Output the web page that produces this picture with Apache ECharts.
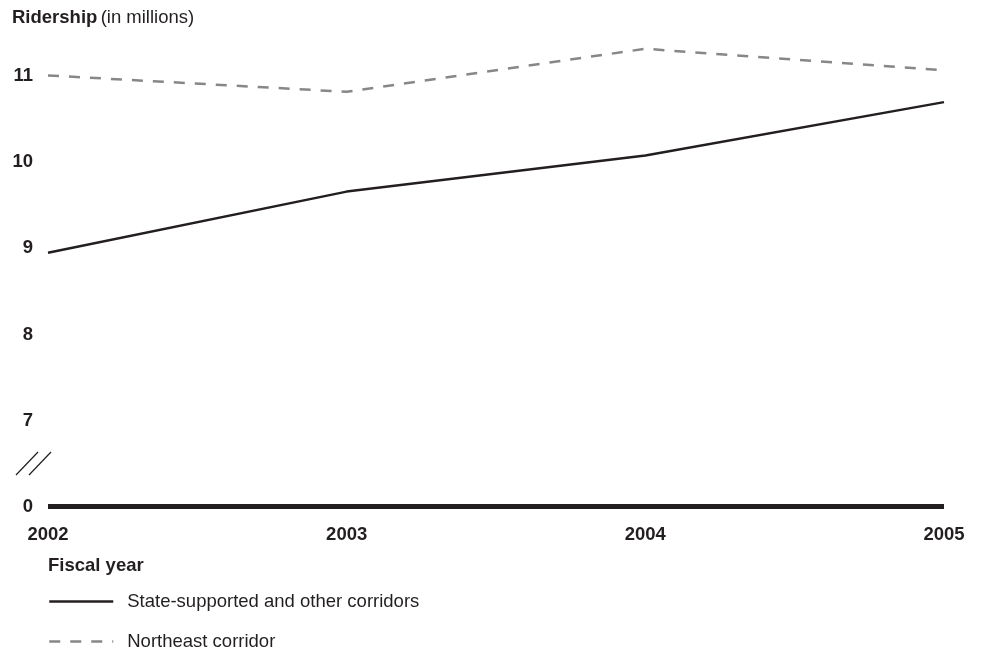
<!DOCTYPE html>
<html>
<head>
<meta charset="utf-8">
<script src="https://cdn.jsdelivr.net/npm/echarts@6/dist/echarts.min.js"></script>
<style>html,body{margin:0;padding:0;background:#fff}#c{width:982px;height:651px}</style>
</head>
<body>
<div id="c"></div>
<script>
var years = ['2002', '2003', '2004', '2005'];
var stateSupported = [8.95, 9.66, 10.08, 10.70];
var northeast = [11.01, 10.82, 11.32, 11.07];
// axis break: the bottom tick (6 on the scale) is labeled "0"
var yTicks = [6, 7, 8, 9, 10, 11];
var yTickLabels = ['0', '7', '8', '9', '10', '11'];
var seriesNames = ['State-supported and other corridors', 'Northeast corridor'];

var TXT = '#231f20';
var GRAY = '#878787';
var FONT = 'Liberation Sans, Arial, Helvetica, sans-serif';
var FS = 18.5;

function legendFor(name, top) {
  return {
    orient: 'vertical',
    left: 43,
    top: top,
    itemWidth: 64,
    itemHeight: 14,
    itemGap: 26,
    itemStyle: {opacity: 0},
    lineStyle: {width: 2.5},
    textStyle: {color: TXT, fontSize: FS, fontFamily: FONT, padding: [0, 0, 0, 9]},
    data: [name]
  };
}

var chart = echarts.init(document.getElementById('c'), null, {renderer: 'canvas'});
chart.setOption({
  animation: false,
  backgroundColor: '#fff',
  textStyle: {fontFamily: FONT, color: TXT},
  grid: {left: 48, right: 38, top: 33.3, bottom: 144.5},
  xAxis: {
    type: 'category',
    data: years,
    boundaryGap: false,
    axisLine: {show: true, lineStyle: {color: TXT, width: 5, cap: 'butt'}},
    axisTick: {show: false},
    splitLine: {show: false},
    axisLabel: {color: TXT, fontSize: FS, fontWeight: 'bold', fontFamily: FONT, margin: 19}
  },
  yAxis: {
    type: 'value',
    min: 6,
    max: 11.5,
    interval: 1,
    axisLine: {show: false},
    axisTick: {show: false},
    splitLine: {show: false},
    axisLabel: {
      color: TXT, fontSize: FS, fontWeight: 'bold', fontFamily: FONT, margin: 15,
      formatter: function (v) {
        var i = yTicks.indexOf(v);
        return i >= 0 ? yTickLabels[i] : '';
      }
    }
  },
  legend: [legendFor(seriesNames[0], 587), legendFor(seriesNames[1], 627)],
  series: [
    {
      name: seriesNames[0],
      type: 'line',
      data: stateSupported,
      symbol: 'none',
      lineStyle: {color: TXT, width: 2.5},
      itemStyle: {color: TXT}
    },
    {
      name: seriesNames[1],
      type: 'line',
      data: northeast,
      symbol: 'none',
      lineStyle: {color: GRAY, width: 2.5, type: [11, 10]},
      itemStyle: {color: GRAY}
    }
  ]
});

// axis-break marks between 7 and the 0 baseline
var yMid = chart.convertToPixel({yAxisIndex: 0}, 6.5);
chart.setOption({
  graphic: [
    {
      type: 'text', left: 12, top: 8,
      style: {
        text: '{b|Ridership} {n|(in millions)}',
        rich: {
          b: {fontSize: FS, fontWeight: 'bold', fill: TXT, fontFamily: FONT},
          n: {fontSize: FS, fill: TXT, fontFamily: FONT}
        }
      }
    },
    {
      type: 'text', left: 48, top: 556,
      style: {text: 'Fiscal year', fontSize: FS, fontWeight: 'bold', fill: TXT, fontFamily: FONT}
    },
    {type: 'line', shape: {x1: 16, y1: yMid + 11.5, x2: 38, y2: yMid - 11.5}, style: {stroke: TXT, lineWidth: 1.2}},
    {type: 'line', shape: {x1: 29, y1: yMid + 11.5, x2: 51, y2: yMid - 11.5}, style: {stroke: TXT, lineWidth: 1.2}}
  ]
});
</script>
</body>
</html>
